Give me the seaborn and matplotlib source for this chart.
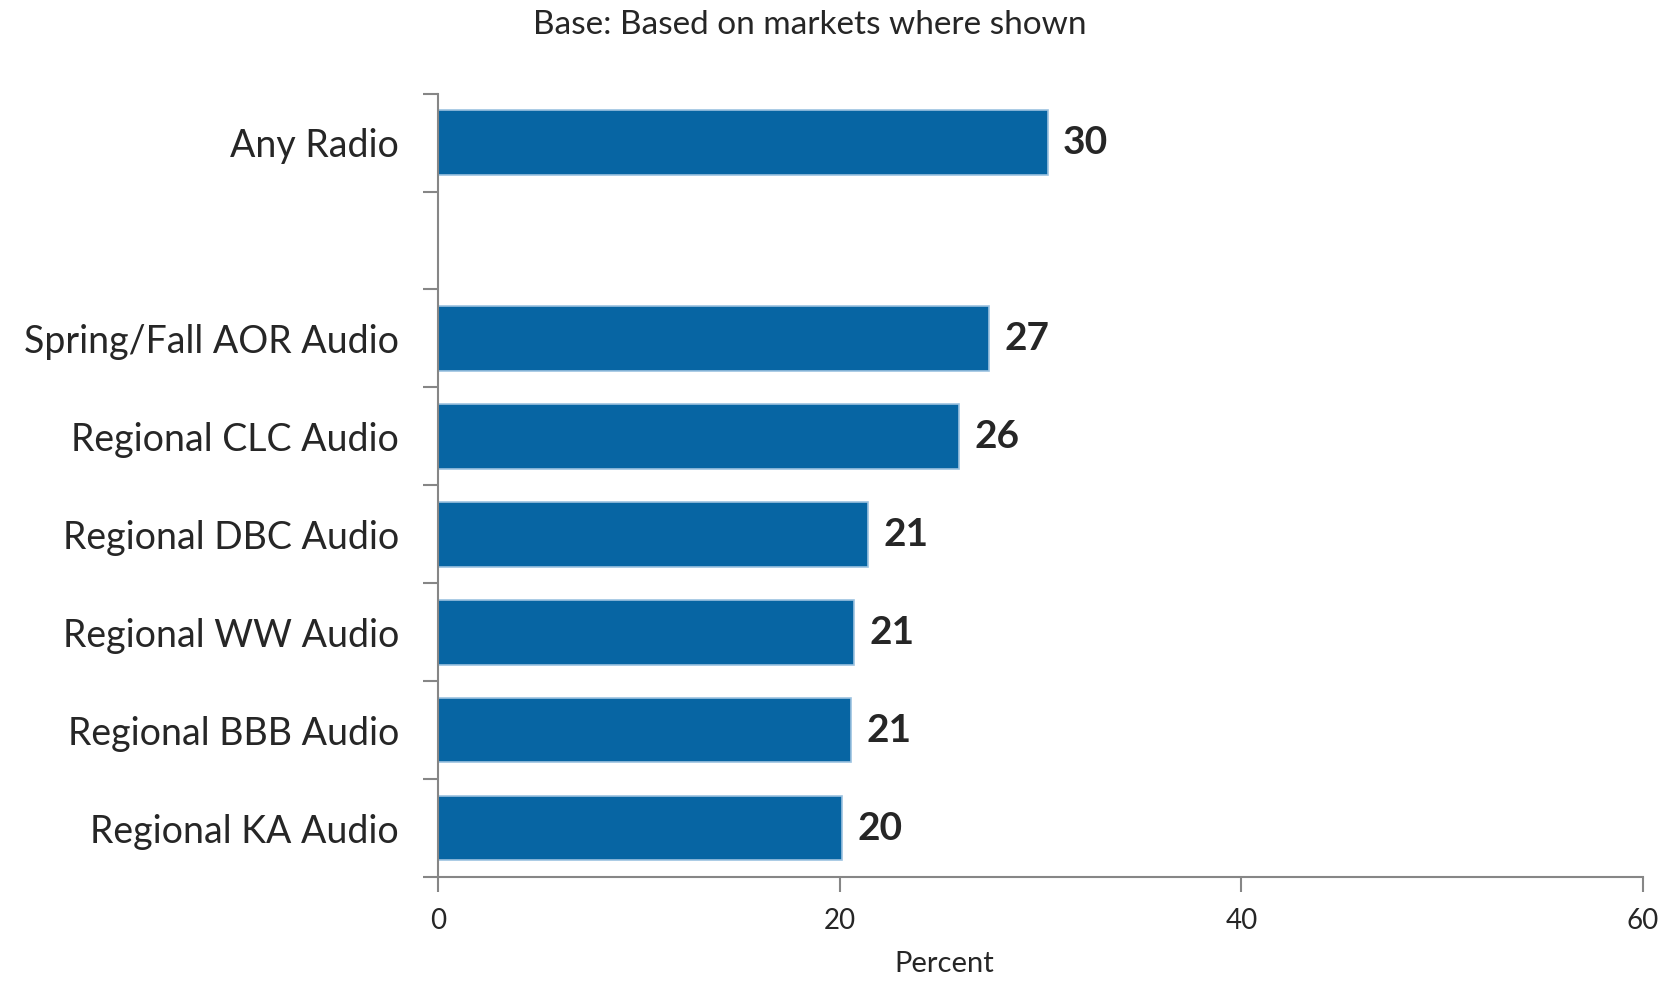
import matplotlib
matplotlib.use("Agg")
import matplotlib.pyplot as plt
import seaborn as sns
import pandas as pd
import numpy as np

# Reach (percent) by audio source
categories = ["Any Radio", "Spring/Fall AOR Audio", "Regional CLC Audio",
              "Regional DBC Audio", "Regional WW Audio", "Regional BBB Audio",
              "Regional KA Audio"]
values = [30.35, 27.45, 25.95, 21.4, 20.7, 20.55, 20.1]
# Slot order, with an empty slot separating the total from the regional rows
order = ["Any Radio", " ", "Spring/Fall AOR Audio", "Regional CLC Audio",
         "Regional DBC Audio", "Regional WW Audio", "Regional BBB Audio",
         "Regional KA Audio"]
x_ticks = [0, 20, 40, 60]
title = "Base: Based on markets where shown"
x_label = "Percent"

sns.set_theme(style="white")
plt.rcParams["font.family"] = ["Lato", "DejaVu Sans"]

df = pd.DataFrame({"source": categories, "pct": values})

fig = plt.figure(figsize=(16.67, 9.85), dpi=100)
ax = fig.add_axes([0.2628, 0.1096, 0.7228, 0.7954])

sns.barplot(data=df, y="source", x="pct", order=order, orient="h",
            color="#0765A3", saturation=1, width=0.66,
            edgecolor="#9cc2e0", linewidth=1.2, ax=ax)

ax.set_xlim(0, 60)
ax.set_ylim(len(order) - 0.5, -0.5)
ax.set_xticks(x_ticks)
ax.set_xticklabels([str(t) for t in x_ticks], fontsize=20, color="#262626")

# category labels centred on slots, tick marks on slot boundaries
ax.set_yticks(range(len(order)))
ax.set_yticklabels(order, fontsize=27, color="#262626")
ax.tick_params(axis="y", which="major", length=0, pad=28)
ax.set_yticks(np.arange(-0.5, len(order), 1.0), minor=True)
ax.tick_params(axis="y", which="minor", length=11, width=1.5,
               color="#868686", left=True)
ax.tick_params(axis="x", which="major", length=11, width=1.5,
               color="#868686", bottom=True, pad=11)

for side in ["top", "right"]:
    ax.spines[side].set_visible(False)
for side in ["left", "bottom"]:
    ax.spines[side].set_color("#868686")
    ax.spines[side].set_linewidth(1.5)

ax.set_xlabel(x_label, fontsize=21, color="#262626")
ax.xaxis.set_label_coords(0.42, -0.095)
ax.set_ylabel("")
ax.grid(False)

for cont in ax.containers:
    ax.bar_label(cont, fmt="%.0f", padding=11, fontsize=28,
                 fontweight="bold", color="#262626")

fig.text(0.4855, 0.975, title, ha="center", va="center", fontsize=24,
         color="#262626")

fig.savefig("out.png", dpi=100)
